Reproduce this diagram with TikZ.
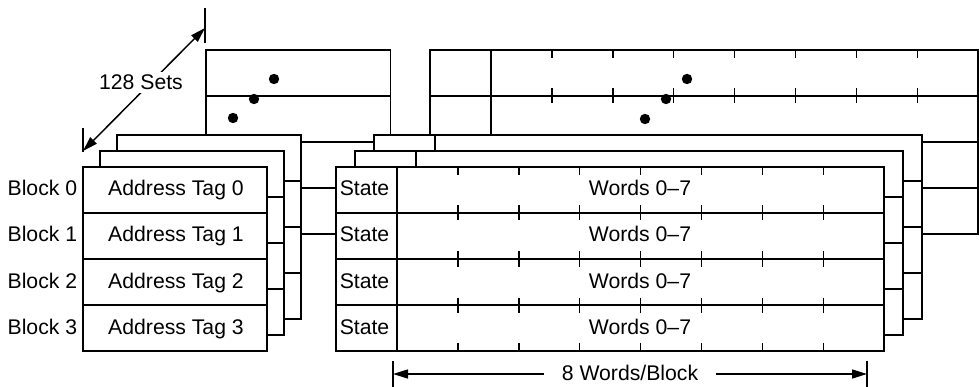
\documentclass[tikz,border=0pt]{standalone}
\usepackage{fontspec}
\setmainfont{Liberation Sans}
\usetikzlibrary{arrows.meta}
\newcommand\mytagbox[2]{%
  \draw[box] ({82.7+#1},{167+#2}) rectangle ({267+#1},{351+#2});
  \foreach \r in {1,2,3} {\draw ({82.7+#1},{167+46*\r+#2}) -- ({267+#1},{167+46*\r+#2});}
}
\newcommand\mydatabox[2]{%
  \draw[box] ({336+#1},{167+#2}) rectangle ({884+#1},{351+#2});
  \draw ({397+#1},{167+#2}) -- ({397+#1},{351+#2});
  \foreach \r in {1,2,3} {\draw ({336+#1},{167+46*\r+#2}) -- ({884+#1},{167+46*\r+#2});}
}
\newcommand\myticks[2]{%
  \foreach \k in {1,...,7} {
    \draw[tick] ({397+60.9*\k+#1},{167+#2}) -- ++(0,8);
    \foreach \r in {1,2,3} {\draw[tick] ({397+60.9*\k+#1},{167+46*\r+#2-7.5}) -- ++(0,15);}
    \draw[tick] ({397+60.9*\k+#1},{351+#2}) -- ++(0,-8);
  }
}
\begin{document}
\begin{tikzpicture}[x=1pt,y=-1pt, line width=1.7pt,
  box/.style={draw=black, fill=white},
  tick/.style={line width=1.5pt},
  lbl/.style={font=\fontsize{21.2}{25}\selectfont, inner sep=0pt, anchor=base},
  dim/.style={line width=1.5pt, {Triangle[length=15pt,width=9pt]}-{Triangle[length=15pt,width=9pt]}}]
\useasboundingbox (0,0) rectangle (979,387);
% back set (set 127)
\mytagbox{123.5}{-117}
\mydatabox{94}{-117}
\myticks{94}{-117}
\fill (274,79) circle[radius=5.2pt];
\fill (254,99) circle[radius=5.2pt];
\fill (233,118) circle[radius=5.2pt];
\fill (687,79) circle[radius=5.2pt];
\fill (666,99) circle[radius=5.2pt];
\fill (645,119) circle[radius=5.2pt];
% middle sets
\mytagbox{34}{-32}
\mydatabox{38}{-32}
\mytagbox{17}{-16}
\mydatabox{19}{-16}
% front set
\mytagbox{0}{0}
\mydatabox{0}{0}
\myticks{0}{0}
% labels
\foreach \i in {0,1,2,3} {
  \node[lbl, anchor=base east] (blk\i) at (78,{196+46*\i}) {Block \i};
  \node[lbl] (tag\i) at (176,{196+46*\i}) {Address Tag \i};
  \node[lbl] (st\i) at (364.5,{196+46*\i}) {State};
  \node[lbl] (wd\i) at (640,{196+46*\i}) {Words 0--7};
}
% 128 sets dimension
\coordinate (sa) at (83,151);
\coordinate (sb) at (205,28);
\draw (83,128) -- (83,152);
\draw (205,8) -- (205,43);
\draw[dim] (sa) -- (sb);
\node[lbl, fill=white, inner sep=3pt] (sets) at (141,90) {128 Sets};
% 8 words/block dimension
\coordinate (wa) at (393,374);
\coordinate (wb) at (867,374);
\draw (393,361) -- (393,387);
\draw (867,361) -- (867,387);
\draw[dim] (wa) -- (wb);
\node[lbl, fill=white, inner xsep=18pt, inner ysep=2pt] (wpb) at (630,380) {8 Words/Block};
\end{tikzpicture}
\end{document}
